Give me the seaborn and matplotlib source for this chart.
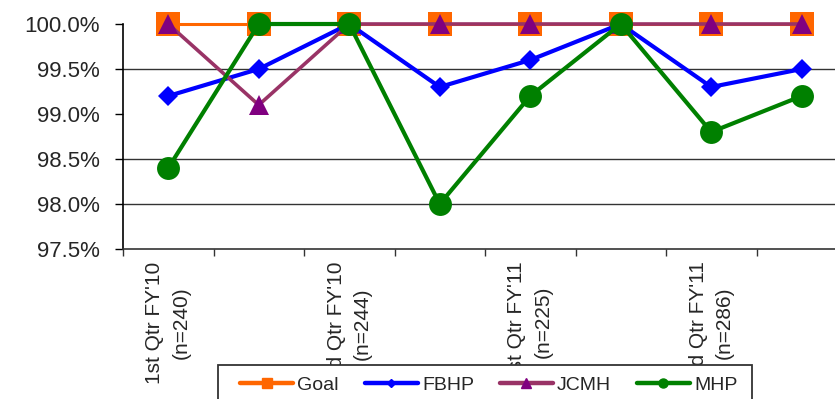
import matplotlib
matplotlib.use("Agg")
import matplotlib.pyplot as plt
from matplotlib.lines import Line2D
from matplotlib.patches import Rectangle
from matplotlib.ticker import FixedLocator, FuncFormatter
import seaborn as sns

# Quarterly compliance rates (%) by facility
quarters = ["1st Qtr FY'10\n(n=240)", "", "3rd Qtr FY'10\n(n=244)", "",
            "1st Qtr FY'11\n(n=225)", "", "3rd Qtr FY'11\n(n=286)", ""]
goal = [100.0, 100.0, 100.0, 100.0, 100.0, 100.0, 100.0, 100.0]
fbhp = [99.2, 99.5, 100.0, 99.3, 99.6, 100.0, 99.3, 99.5]
jcmh = [100.0, 99.1, 100.0, 100.0, 100.0, 100.0, 100.0, 100.0]
mhp = [98.4, 100.0, 100.0, 98.0, 99.2, 100.0, 98.8, 99.2]

y_ticks = [97.5, 98.0, 98.5, 99.0, 99.5, 100.0]
grid_levels = [98.0, 98.5, 99.5]

sns.set_style("white")
plt.rcParams["font.family"] = ["Liberation Sans", "DejaVu Sans"]

W, H = 835, 399
fig = plt.figure(figsize=(W / 100, H / 100), dpi=100)
ax = fig.add_axes([123 / W, 1 - 249 / H, 724 / W, 225 / H])

pos = list(range(len(quarters)))

series = [
    ("Goal", goal, dict(color="#FF6600", marker="s", markersize=17, lw=2.2,
                        markerfacecolor="#FF6600", markeredgecolor="#FF6600", mew=0)),
    ("FBHP", fbhp, dict(color="#0000FF", marker="D", markersize=10, lw=3.0,
                        markerfacecolor="#0000FF", markeredgecolor="#0000FF", mew=0)),
    ("JCMH", jcmh, dict(color="#993366", marker="^", markersize=14, lw=2.6,
                        markerfacecolor="#800080", markeredgecolor="#800080", mew=0)),
    ("MHP", mhp, dict(color="#008000", marker="o", markersize=16.5, lw=3.0,
                      markerfacecolor="#008000", markeredgecolor="#008000", mew=0)),
]

for name, vals, kw in series:
    sns.lineplot(x=pos, y=vals, ax=ax, sort=False, legend=False,
                 clip_on=False, zorder=3, **kw)

for lvl in grid_levels:
    ax.axhline(lvl, color="#333333", lw=1.0, zorder=1)

ax.set_xlim(-0.5, len(quarters) - 0.5)
ax.set_ylim(97.5, 100.0)
ax.yaxis.set_major_locator(FixedLocator(y_ticks))
ax.yaxis.set_major_formatter(FuncFormatter(lambda v, p: f"{v:.1f}%"))
ax.tick_params(axis="y", which="major", direction="out", length=6, width=1,
               color="black", left=True, labelsize=16, pad=11)

ax.set_xticks(pos)
ax.set_xticklabels(quarters, rotation=90, fontsize=15, ha="center", va="top",
                   multialignment="center", linespacing=1.5)
ax.tick_params(axis="x", which="major", length=0, pad=9)
ax.set_xticks([p - 0.5 for p in pos] + [len(pos) - 0.5], minor=True)
ax.tick_params(axis="x", which="minor", direction="out", length=5, width=1,
               color="#333333", bottom=True)

for side in ("top", "right"):
    ax.spines[side].set_visible(False)
ax.spines["left"].set_color("black")
ax.spines["left"].set_linewidth(1.2)
ax.spines["bottom"].set_color("#333333")
ax.spines["bottom"].set_linewidth(1.2)
ax.set_xlabel("")
ax.set_ylabel("")

# Legend box, running off the bottom edge of the figure
box = Rectangle((218 / W, -0.05), (752 - 218) / W, (1 - 365 / H) + 0.05,
                transform=fig.transFigure, facecolor="white",
                edgecolor="#333333", lw=1.3, zorder=4)
fig.add_artist(box)

handles = [
    Line2D([], [], color="#FF6600", lw=3.2, marker="s", markersize=6.5,
           markerfacecolor="#FF6600", markeredgecolor="#FF6600"),
    Line2D([], [], color="#0000FF", lw=3.2, marker="D", markersize=4.5,
           markerfacecolor="#0000FF", markeredgecolor="#0000FF"),
    Line2D([], [], color="#993366", lw=3.2, marker="^", markersize=6.5,
           markerfacecolor="#800080", markeredgecolor="#800080"),
    Line2D([], [], color="#008000", lw=3.2, marker="o", markersize=6.5,
           markerfacecolor="#008000", markeredgecolor="#008000"),
]
leg = fig.legend(handles, [s[0] for s in series], loc="center left",
                 bbox_to_anchor=(240 / W, 1 - 385 / H), ncol=4,
                 frameon=False, fontsize=14, handlelength=2.75,
                 handletextpad=0.2, columnspacing=1.32, borderpad=0,
                 borderaxespad=0)
leg.set_zorder(5)

fig.savefig("out.png", dpi=100)
